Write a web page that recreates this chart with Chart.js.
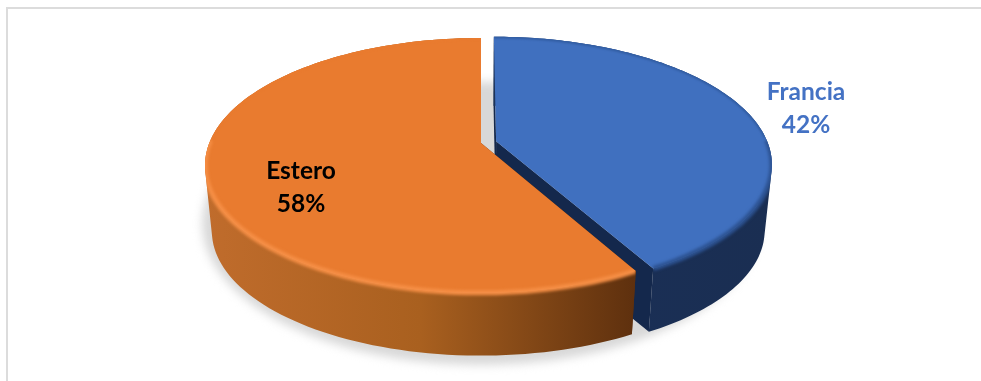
<!DOCTYPE html>
<html lang="en">
<head>
    <meta charset="UTF-8">
    <title>Francia / Estero</title>
    <script src="https://cdn.jsdelivr.net/npm/chart.js"></script>
    <style>
        html, body { margin: 0; padding: 0; background: #fff; }
        #frame {
            position: absolute; left: 6px; top: 7px; right: 0; bottom: 0;
            border-left: 2px solid #dcdcdc; border-top: 2px solid #dcdcdc;
        }
        #wrap { position: absolute; left: 0; top: 0; width: 981px; height: 381px; }
    </style>
</head>
<body>
    <div id="frame"></div>
    <div id="wrap"><canvas id="myChart" width="981" height="381"></canvas></div>

    <script>
        const categories = ['Francia', 'Estero'];
        const shares = [42, 58];

        const faceColors = ['#4070bf', '#e97b2f'];
        const frontRimColors = ['#2c5291', '#f58e45'];
        const backRimColors = ['#2f5a9e', '#e97b2f'];
        const labelColors = ['#4472c4', '#000000'];
        // horizontal gradient stops of the outer wall
        const wallStops = [
            ['#1c3359', '#1a2f55', '#1a2e52'],
            ['#c06c2c', '#a9601f', '#5e300e']
        ];
        const cutColor = ['#14284c', '#5e300e'];

        // where the label block of each slice sits
        const labelX = [806, 301];
        const labelY = [92, 171];

        // perspective of the disc
        const stretchX = 271.7, stretchY = 123.5, tilt = 0.176;
        const depth = 66.5, floorScale = 0.975;

        function project(arc, u, v, scaleX, scaleY, drop) {
            const d = 1 - tilt * v;
            return [
                arc.x + scaleX * stretchX * u / d,
                arc.y + drop + scaleY * stretchY * v / d
            ];
        }

        // rim points of a slice at one level of the solid
        function rimPoints(arc, offsetU, offsetV, scale, drop) {
            const pts = [];
            const steps = 120;
            for (let i = 0; i <= steps; i++) {
                const t = arc.startAngle + (arc.endAngle - arc.startAngle) * i / steps;
                pts.push(project(arc, offsetU + Math.cos(t), offsetV + Math.sin(t), scale, scale, drop));
            }
            return pts;
        }

        function tracePolygon(ctx, pts) {
            ctx.beginPath();
            addPolygon(ctx, pts);
        }

        // adds a polygon to the current path, always wound the same way so overlaps stay filled
        function addPolygon(ctx, pts) {
            let area = 0;
            pts.forEach((p, i) => {
                const q = pts[(i + 1) % pts.length];
                area += p[0] * q[1] - q[0] * p[1];
            });
            const ordered = area < 0 ? pts.slice().reverse() : pts;
            ordered.forEach((p, i) => i ? ctx.lineTo(p[0], p[1]) : ctx.moveTo(p[0], p[1]));
            ctx.closePath();
        }

        function traceLine(ctx, pts) {
            ctx.beginPath();
            pts.forEach((p, i) => i ? ctx.lineTo(p[0], p[1]) : ctx.moveTo(p[0], p[1]));
        }

        class SolidArc extends Chart.ArcElement {
            static id = 'solidArc';

            draw(ctx) {
                const i = this.$context.dataIndex;
                const mid = (this.startAngle + this.endAngle) / 2;
                const shift = (this.options.offset || 0) / this.outerRadius;
                const ou = Math.cos(mid) * shift, ov = Math.sin(mid) * shift;

                const topRim = rimPoints(this, ou, ov, 1, 0);
                const lowRim = rimPoints(this, ou, ov, floorScale, depth);
                const topHub = project(this, ou, ov, 1, 1, 0);
                const lowHub = project(this, ou, ov, floorScale, floorScale, depth);
                const face = [topHub].concat(topRim);

                const addWall = () => {
                    for (let n = 0; n < topRim.length - 1; n++) {
                        addPolygon(ctx, [topRim[n], topRim[n + 1], lowRim[n + 1], lowRim[n]]);
                    }
                };

                ctx.save();

                // cut faces
                ctx.fillStyle = cutColor[i];
                [0, topRim.length - 1].forEach(n => {
                    tracePolygon(ctx, [topHub, topRim[n], lowRim[n], lowHub]);
                    ctx.fill();
                });

                // outer wall, one quad per rim step so the sides stay tangent
                const xs = topRim.map(p => p[0]);
                const grad = ctx.createLinearGradient(Math.min(...xs), 0, Math.max(...xs), 0);
                wallStops[i].forEach((c, n) => grad.addColorStop(n / (wallStops[i].length - 1), c));
                ctx.fillStyle = grad;
                ctx.beginPath();
                addWall();
                ctx.fill();

                // top face
                ctx.fillStyle = faceColors[i];
                tracePolygon(ctx, face);
                ctx.fill();

                // soft bevel: the back of the rim stays inside the face, the front melts into the wall
                const span = this.endAngle - this.startAngle;
                const angleAt = n => this.startAngle + span * n / (topRim.length - 1);
                const front = topRim.filter((p, n) => Math.sin(angleAt(n)) > -0.03);
                const back = topRim.filter((p, n) => Math.sin(angleAt(n)) <= -0.03);

                ctx.save();
                tracePolygon(ctx, face);
                ctx.clip();
                ctx.filter = 'blur(1px)';
                ctx.strokeStyle = backRimColors[i];
                ctx.lineWidth = 3;
                traceLine(ctx, back);
                ctx.stroke();
                ctx.restore();

                ctx.save();
                ctx.beginPath();
                addPolygon(ctx, face);
                addWall();
                ctx.clip();
                ctx.filter = 'blur(1.8px)';
                ctx.strokeStyle = frontRimColors[i];
                ctx.lineWidth = 5;
                traceLine(ctx, front);
                ctx.stroke();
                ctx.restore();

                ctx.restore();
            }
        }

        class Pie3dController extends Chart.PieController {
            static id = 'pie3d';
            static defaults = { ...Chart.PieController.defaults, dataElementType: 'solidArc' };
            static overrides = Chart.PieController.overrides;
        }

        Chart.register(SolidArc, Pie3dController);

        const groundShadow = {
            id: 'groundShadow',
            beforeDatasetsDraw(chart) {
                const arc = chart.getDatasetMeta(0).data[0];
                const pts = [];
                for (let i = 0; i < 180; i++) {
                    const t = i / 180 * Math.PI * 2;
                    pts.push(project(arc, Math.cos(t), Math.sin(t), 1.01, 1.11, 55.5));
                }
                const ctx = chart.ctx;
                ctx.save();
                ctx.filter = 'blur(5px)';
                ctx.fillStyle = '#d8d8d8';
                tracePolygon(ctx, pts);
                ctx.fill();
                ctx.restore();
            }
        };

        const sliceLabels = {
            id: 'sliceLabels',
            afterDatasetsDraw(chart) {
                const ctx = chart.ctx;
                ctx.save();
                ctx.font = 'bold 24.5px Lato';
                ctx.textAlign = 'center';
                ctx.textBaseline = 'middle';
                categories.forEach((name, i) => {
                    ctx.fillStyle = labelColors[i];
                    ctx.fillText(name, labelX[i], labelY[i]);
                    ctx.fillText(shares[i] + '%', labelX[i], labelY[i] + 33);
                });
                ctx.restore();
            }
        };

        const ctx = document.getElementById('myChart').getContext('2d');
        new Chart(ctx, {
            type: 'pie3d',
            data: {
                labels: categories,
                datasets: [{
                    data: shares,
                    backgroundColor: faceColors,
                    offset: [8, 0],
                    borderWidth: 0
                }]
            },
            options: {
                responsive: false,
                animation: false,
                events: [],
                layout: { padding: { right: 19, bottom: 95 } },
                plugins: { legend: { display: false }, tooltip: { enabled: false } }
            },
            plugins: [groundShadow, sliceLabels]
        });
    </script>
</body>
</html>
